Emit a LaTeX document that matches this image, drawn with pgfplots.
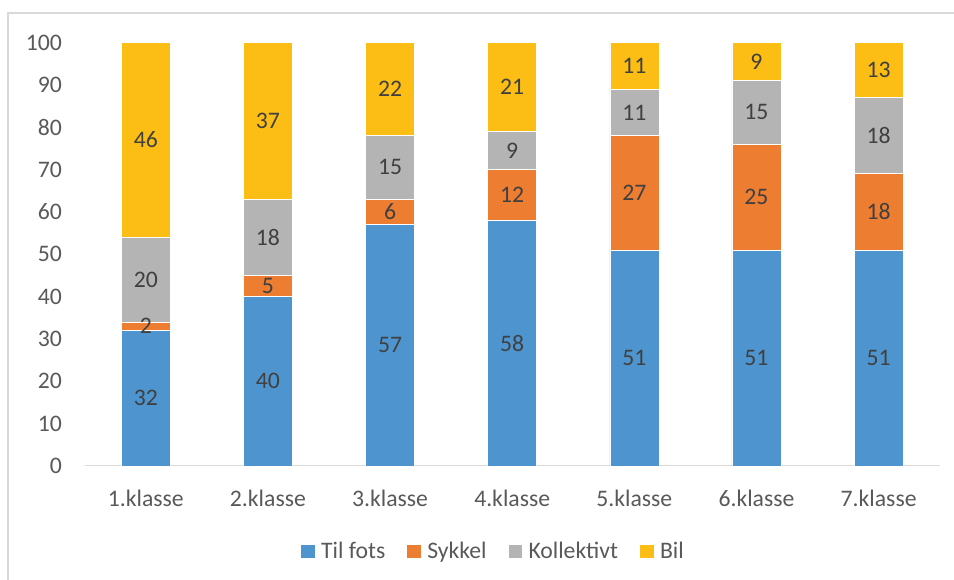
\documentclass[border=0pt]{standalone}
\usepackage{fontspec}
\setmainfont{Carlito}
\usepackage{pgfplots}
\usepackage{pgfplotstable}
\pgfplotsset{compat=1.18}
\definecolor{cblue}{HTML}{4E95D0}
\definecolor{corange}{HTML}{ED7D31}
\definecolor{cgray}{HTML}{B4B4B4}
\definecolor{cyellow}{HTML}{FCBE14}
\definecolor{tickgray}{HTML}{595959}
\definecolor{labgray}{HTML}{404040}
\definecolor{linegray}{HTML}{D9D9D9}
\pgfplotstableread{
x fots sykkel koll bil
0 32 2 20 46
1 40 5 18 37
2 57 6 15 22
3 58 12 9 21
4 51 27 11 11
5 51 25 15 9
6 51 18 18 13
}\mydata
\begin{document}
\begin{tikzpicture}
\draw[linegray, line width=1.2bp] (8bp,-5bp) -- (8bp,567bp) -- (965bp,567bp);
\begin{axis}[
  at={(84.7bp,114bp)}, anchor=south west,
  scale only axis, width=855bp, height=423.5bp,
  ybar stacked, bar width=49bp,
  xmin=-0.5, xmax=6.5, ymin=0, ymax=100,
  xtick=data,
  xticklabels={1.klasse,2.klasse,3.klasse,4.klasse,5.klasse,6.klasse,7.klasse},
  ytick={0,10,...,100},
  major tick length=0,
  axis line style={draw=none},
  font=\fontsize{23.7bp}{28bp}\selectfont,
  tick label style={text=tickgray, inner sep=0},
  yticklabel style={anchor=east, xshift=-22.7bp},
  xticklabel style={anchor=base, yshift=-40bp},
  /pgf/number format/assume math mode=true,
  nodes near coords, point meta=rawy,
  every node near coord/.append style={anchor=center, text=labgray, inner sep=0},
  legend columns=4,
  legend image code/.code={\fill[#1, draw=none] (0bp,0bp) rectangle (13.6bp,13.6bp); \path (19.6bp,0bp);},
  legend style={at={(0.477,-0.2007)}, anchor=center, draw=none, fill=none, inner sep=0,
    nodes={inner sep=0, anchor=base west, text=tickgray},
    /tikz/every even column/.append style={column sep=22bp}},
]
\addplot[fill=cblue, draw=white, line width=0.6bp] table[x=x, y=fots] {\mydata};
\addplot[fill=corange, draw=white, line width=0.6bp] table[x=x, y=sykkel] {\mydata};
\addplot[fill=cgray, draw=white, line width=0.6bp] table[x=x, y=koll] {\mydata};
\addplot[fill=cyellow, draw=white, line width=0.6bp] table[x=x, y=bil] {\mydata};
\legend{Til fots, Sykkel, Kollektivt, Bil}
\draw[linegray, line width=1.3bp] (axis cs:-0.5,0) -- (axis cs:6.5,0);
\end{axis}
\pgfresetboundingbox
\path (0,0) rectangle (954bp,580bp);
\end{tikzpicture}
\end{document}
